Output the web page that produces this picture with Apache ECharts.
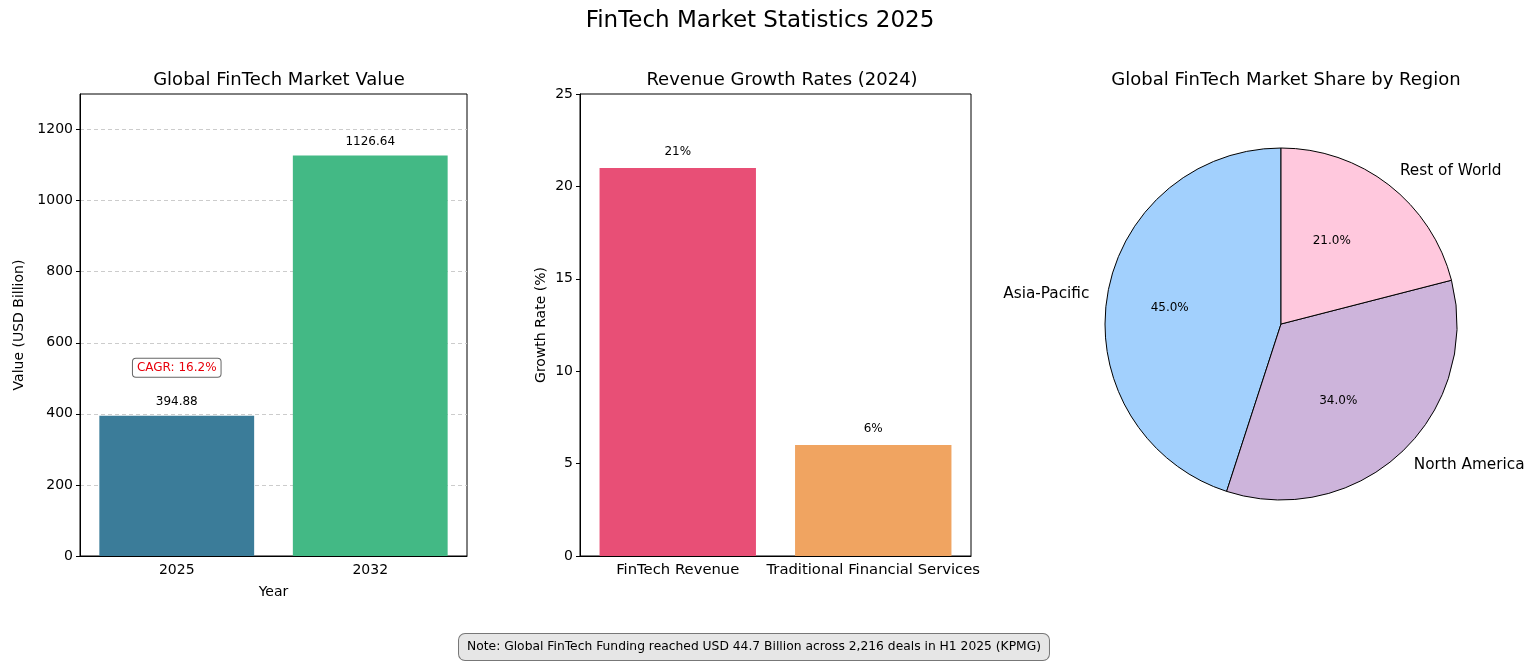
<!DOCTYPE html>
<html><head><meta charset="utf-8">
<script src="https://cdn.jsdelivr.net/npm/echarts@6/dist/echarts.min.js"></script>
<style>html,body{margin:0;padding:0;background:#fff}#c{width:1534px;height:665px}</style>
</head><body><div id="c"></div>
<script>
const years = ['2025', '2032'];
const marketValues = [394.88, 1126.64];
const growthCategories = ['FinTech Revenue', 'Traditional Financial Services'];
const growthRates = [21, 6];
const regions = ['Asia-Pacific', 'North America', 'Rest of World'];
const regionShares = [45.0, 34.0, 21.0];
const cagrText = 'CAGR: 16.2%';
const noteText = 'Note: Global FinTech Funding reached USD 44.7 Billion across 2,216 deals in H1 2025 (KPMG)';

const FONT = '"DejaVu Sans", sans-serif';
const barColors1 = ['#3b7c99', '#43b985'];
const barColors2 = ['#e84f76', '#f0a461'];
const pieColors = ['#a2d0fd', '#cdb4db', '#ffc8dd'];
const cagrAnchor = 530;
const pctLabelShift = [-7, -15, -14];

const chart = echarts.init(document.getElementById('c'), null, {renderer: 'canvas'});
const axisText = {color: '#000', fontSize: 14, fontFamily: FONT};
const nameText = {color: '#000', fontSize: 14, fontFamily: FONT};

const cx = 1281, cy = 324, R = 176;

chart.setOption({
  animation: false,
  textStyle: {fontFamily: FONT},
  title: [
    {text: 'FinTech Market Statistics 2025', left: 755, textAlign: 'center', top: 5, textStyle: {fontSize: 23, fontWeight: 'normal', color: '#000', fontFamily: FONT}},
    {text: 'Global FinTech Market Value', left: 274, textAlign: 'center', top: 66, textStyle: {fontSize: 18, fontWeight: 'normal', color: '#000', fontFamily: FONT}},
    {text: 'Revenue Growth Rates (2024)', left: 777, textAlign: 'center', top: 66, textStyle: {fontSize: 18, fontWeight: 'normal', color: '#000', fontFamily: FONT}},
    {text: 'Global FinTech Market Share by Region', left: 1281, textAlign: 'center', top: 66, textStyle: {fontSize: 18, fontWeight: 'normal', color: '#000', fontFamily: FONT}}
  ],
  grid: [
    {left: 80, top: 94, width: 387, height: 462, show: true, borderColor: '#000', borderWidth: 1, containLabel: false},
    {left: 580, top: 94, width: 391, height: 462, show: true, borderColor: '#000', borderWidth: 1, containLabel: false}
  ],
  xAxis: [
    {type: 'category', gridIndex: 0, data: years, axisLine: {lineStyle: {color: '#000'}},
     axisTick: {alignWithLabel: true, length: 4, lineStyle: {color: '#000'}}, axisLabel: {...axisText, margin: 7},
     name: 'Year', nameLocation: 'middle', nameGap: 29, nameTextStyle: nameText},
    {type: 'category', gridIndex: 1, data: growthCategories, axisLine: {lineStyle: {color: '#000'}},
     axisTick: {alignWithLabel: true, length: 4, lineStyle: {color: '#000'}}, axisLabel: {...axisText, fontSize: 14.8, margin: 7, interval: 0}}
  ],
  yAxis: [
    {type: 'value', gridIndex: 0, min: 0, max: 1300, interval: 200,
     axisLine: {show: true, lineStyle: {color: '#000'}}, axisTick: {show: true, length: 4, lineStyle: {color: '#000'}},
     axisLabel: {...axisText, margin: 7, showMaxLabel: false, formatter: v => String(v)},
     splitLine: {show: true, showMinLine: false, showMaxLine: false, lineStyle: {color: '#cccccc', type: [4, 3], width: 1}},
     name: 'Value (USD Billion)', nameLocation: 'middle', nameGap: 54, nameTextStyle: nameText},
    {type: 'value', gridIndex: 1, min: 0, max: 25, interval: 5,
     axisLine: {show: true, lineStyle: {color: '#000'}}, axisTick: {show: true, length: 4, lineStyle: {color: '#000'}},
     axisLabel: {...axisText, margin: 7}, splitLine: {show: false},
     name: 'Growth Rate (%)', nameLocation: 'middle', nameGap: 32, nameTextStyle: nameText}
  ],
  series: [
    {type: 'bar', xAxisIndex: 0, yAxisIndex: 0, barWidth: '80%',
     data: marketValues.map((v, i) => ({value: v, itemStyle: {color: barColors1[i]}})),
     label: {show: true, position: 'top', distance: 8, color: '#000', fontSize: 12, fontFamily: FONT, formatter: p => p.value.toFixed(2)},
     markPoint: {symbol: 'circle', symbolSize: 0, silent: true,
       data: [{coord: [years[0], cagrAnchor], value: cagrText,
         label: {show: true, position: 'inside', formatter: cagrText, color: '#e8000b', fontSize: 12, fontFamily: FONT,
           backgroundColor: '#fff', borderColor: '#666', borderWidth: 1, borderRadius: 3, padding: [3, 4, 3, 4]}}]}},
    {type: 'bar', xAxisIndex: 1, yAxisIndex: 1, barWidth: '80%',
     data: growthRates.map((v, i) => ({value: v, itemStyle: {color: barColors2[i]}})),
     label: {show: true, position: 'top', distance: 10, color: '#000', fontSize: 12, fontFamily: FONT, formatter: p => p.value + '%'}},
    {type: 'pie', center: [cx, cy], radius: [0, R], startAngle: 90, clockwise: false, avoidLabelOverlap: false,
     silent: true,
     data: regions.map((n, i) => ({name: n, value: regionShares[i], itemStyle: {color: pieColors[i]}})),
     itemStyle: {borderColor: '#000', borderWidth: 1},
     label: {show: true, position: 'outside', color: '#000', fontSize: 15.3, fontFamily: FONT, distanceToLabelLine: 0, formatter: '{b}'},
     labelLine: {show: false, length: 18, length2: 0}},
    {type: 'pie', center: [cx, cy], radius: [0, 2 * 0.6 * R - 6], startAngle: 90, clockwise: false, avoidLabelOverlap: false,
     silent: true, z: 5,
     data: regions.map((n, i) => ({name: n, value: regionShares[i]})),
     itemStyle: {color: 'rgba(0,0,0,0)', borderWidth: 0},
     label: {show: true, position: 'inside', color: '#000', fontSize: 12, fontFamily: FONT, formatter: p => p.value.toFixed(1) + '%'},
     labelLayout: p => ({dx: pctLabelShift[p.dataIndex]}),
     labelLine: {show: false}}
  ],
  graphic: [
    {type: 'text', x: 754, y: 634, z: 10,
     style: {text: noteText, fontSize: 12.3, fontFamily: FONT, fill: '#000', align: 'center', verticalAlign: 'top',
       backgroundColor: '#e6e6e6', borderColor: '#777', borderWidth: 1, borderRadius: 6, padding: [7, 8, 7, 8]}}
  ]
});
</script></body></html>
